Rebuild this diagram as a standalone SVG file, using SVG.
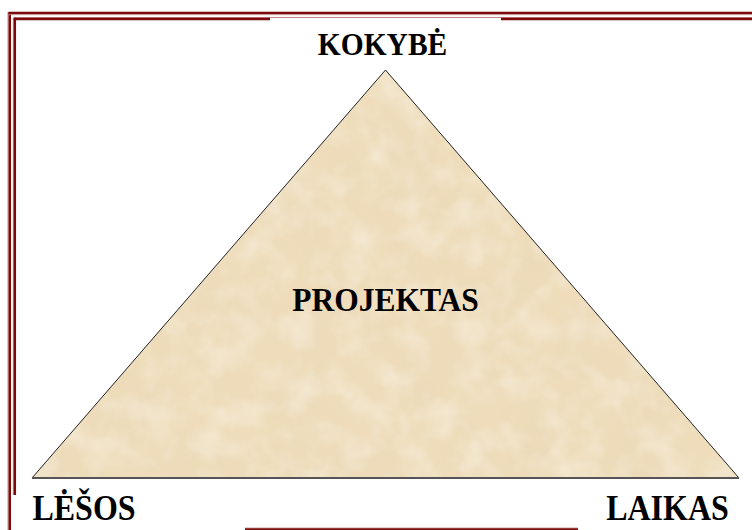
<svg xmlns="http://www.w3.org/2000/svg" width="752" height="530" viewBox="0 0 752 530">
  <style>
    .frame { stroke: #7d0a0a; fill: none; }
    .rim { stroke: #c08a8a; fill: none; }
    .label { font-family: "Liberation Serif", "Times New Roman", serif; font-weight: bold; fill: #000; text-anchor: middle; }
  </style>
  <defs>
    <filter id="parchDark" x="0" y="0" width="100%" height="100%" filterUnits="objectBoundingBox">
      <feTurbulence type="fractalNoise" baseFrequency="0.018" numOctaves="4" seed="7" result="n"/>
      <feColorMatrix in="n" type="matrix" values="0 0 0 0 0.82  0 0 0 0 0.68  0 0 0 0 0.47  1.0 0 0 0 -0.4" result="c"/>
      <feComposite in="c" in2="SourceGraphic" operator="in"/>
    </filter>
    <filter id="parchLight" x="0" y="0" width="100%" height="100%" filterUnits="objectBoundingBox">
      <feTurbulence type="fractalNoise" baseFrequency="0.035" numOctaves="3" seed="21" result="n"/>
      <feColorMatrix in="n" type="matrix" values="0 0 0 0 0.97  0 0 0 0 0.93  0 0 0 0 0.85  0 0.9 0 0 -0.35" result="c"/>
      <feComposite in="c" in2="SourceGraphic" operator="in"/>
    </filter>
  </defs>
  <rect width="752" height="530" fill="#ffffff"/>

  <g id="frame">
    <line class="rim" x1="8" y1="12" x2="8" y2="530" stroke-width="1"/>
    <line class="frame" x1="9.75" y1="12" x2="9.75" y2="530" stroke-width="2.5"/>
    <line class="frame" x1="8.5" y1="13" x2="752" y2="13" stroke-width="2.5"/>
    <line class="rim" x1="8.5" y1="14.7" x2="752" y2="14.7" stroke-width="0.8"/>
    <line class="rim" x1="14" y1="17.5" x2="752" y2="17.5" stroke-width="1"/>
    <line class="frame" x1="13.5" y1="19" x2="270" y2="19" stroke-width="2.5"/>
    <line class="frame" x1="501" y1="19" x2="752" y2="19" stroke-width="2.5"/>
    <line class="rim" x1="13.3" y1="18" x2="13.3" y2="495" stroke-width="0.8"/>
    <line class="frame" x1="14.8" y1="17.8" x2="14.8" y2="495" stroke-width="2.5"/>
    <line class="rim" x1="245" y1="528" x2="578" y2="528" stroke-width="0.8"/>
    <line class="frame" x1="245" y1="529.2" x2="578" y2="529.2" stroke-width="1.8"/>
  </g>

  <g id="triangle">
    <polygon points="32,478 385.5,70 739,478" fill="#eedcba"/>
    <polygon points="32,478 385.5,70 739,478" fill="#000" filter="url(#parchDark)"/>
    <polygon points="32,478 385.5,70 739,478" fill="#000" filter="url(#parchLight)"/>
    <polygon points="32,478 385.5,70 739,478" fill="none" stroke="#222" stroke-width="1" stroke-linejoin="miter"/>
    <line x1="32" y1="478" x2="739" y2="478" stroke="#555" stroke-width="2"/>
  </g>

  <g id="connectors"/>

  <g id="kokybe"><text class="label" transform="translate(382.5 55) scale(1 1.1)" x="0" y="0" font-size="29.5">KOKYBĖ</text></g>
  <g id="projektas"><text class="label" transform="translate(385.5 311) scale(1 1.1)" x="0" y="0" font-size="31.5">PROJEKTAS</text></g>
  <g id="lesos"><text class="label" transform="translate(84 520) scale(1 1.1)" x="0" y="0" font-size="32">LĖŠOS</text></g>
  <g id="laikas"><text class="label" transform="translate(667.5 520) scale(1 1.1)" x="0" y="0" font-size="32">LAIKAS</text></g>
</svg>
